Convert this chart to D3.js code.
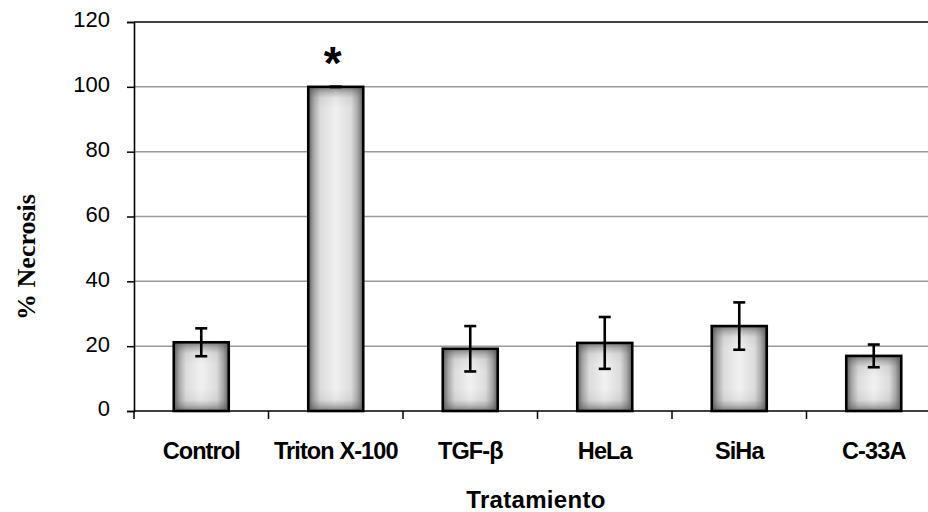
<!DOCTYPE html>
<html>
<head>
<meta charset="utf-8">
<script src="https://cdn.jsdelivr.net/npm/d3@7"></script>
<style>
  body { margin: 0; background: #fff; }
  svg { display: block; }
</style>
</head>
<body>
<svg width="928" height="512"></svg>
<script>
// data
const categories = ['Control', 'Triton X-100', 'TGF-\u03b2', 'HeLa', 'SiHa', 'C-33A'];
const necrosis = [21.2, 100, 19.2, 21, 26.2, 17];
const errors = [4.3, 0, 7, 8, 7.3, 3.5];
const yTicks = [0, 20, 40, 60, 80, 100, 120];
const marked = ['Triton X-100'];

const svg = d3.select('svg');
const plotLeft = 134, plotTop = 22, plotBottom = 411;
const bandW = 134.5;
const plotRight = plotLeft + bandW * categories.length;

const x = d3.scaleBand()
    .domain(categories)
    .range([plotLeft, plotRight])
    .paddingInner(0)
    .paddingOuter(0);

const y = d3.scaleLinear()
    .domain([0, 120])
    .range([plotBottom, plotTop]);

const barW = 55;
const edge = 11; // width of the dark shading at bar edges, px

const data = categories.map((c, i) => ({ c, v: necrosis[i], e: errors[i], i }));

// gradients: dark edges, light centre
const defs = svg.append('defs');
const gh = defs.append('linearGradient').attr('id', 'gh')
    .attr('x1', 0).attr('x2', 1).attr('y1', 0).attr('y2', 0);
[['0%', '#5e5e5e'], ['10%', '#a8a8a8'], ['22%', '#dcdcdc'], ['50%', '#f1f1f1'],
 ['78%', '#dcdcdc'], ['90%', '#a8a8a8'], ['100%', '#5e5e5e']].forEach(s =>
    gh.append('stop').attr('offset', s[0]).attr('stop-color', s[1]));

// vertical shading per bar so the dark band keeps a fixed pixel size
data.forEach(d => {
    const h = plotBottom - y(d.v);
    const f = Math.min(edge / h, 0.3);
    const g = defs.append('linearGradient').attr('id', 'gv' + d.i)
        .attr('x1', 0).attr('x2', 0).attr('y1', 0).attr('y2', 1);
    [[0, 0.75], [f * 0.5, 0.35], [f, 0.08], [Math.min(f * 2, 0.45), 0],
     [1 - Math.min(f * 2, 0.45), 0], [1 - f, 0.08], [1 - f * 0.5, 0.35], [1, 0.75]]
        .forEach(s => g.append('stop')
            .attr('offset', s[0])
            .attr('stop-color', '#555')
            .attr('stop-opacity', s[1]));
});

// grid lines
svg.append('g')
    .selectAll('line')
    .data(yTicks.filter(d => d > 0))
    .enter()
    .append('line')
    .attr('x1', plotLeft)
    .attr('x2', 928)
    .attr('y1', d => y(d))
    .attr('y2', d => y(d))
    .attr('stroke', d => d === 120 ? '#000' : '#9a9a9a')
    .attr('stroke-width', d => d === 120 ? 1.6 : 1.5);

// y axis
const yAxis = svg.append('g')
    .attr('transform', `translate(${plotLeft},0)`)
    .call(d3.axisLeft(y).tickValues(yTicks).tickSize(7).tickPadding(17));
yAxis.select('.domain').attr('stroke', '#000').attr('stroke-width', 1.6);
yAxis.selectAll('.tick line').attr('stroke', '#000').attr('stroke-width', 1.5);
yAxis.selectAll('.tick text')
    .attr('font-family', 'Liberation Sans, Arial, sans-serif')
    .attr('font-size', 22)
    .attr('dy', '0.22em')
    .attr('fill', '#000');

// x axis
const xAxis = svg.append('g')
    .attr('transform', `translate(0,${plotBottom})`)
    .call(d3.axisBottom(x).tickSize(0));
xAxis.select('.domain').remove();
xAxis.selectAll('.tick text')
    .attr('y', 48)
    .attr('dy', null)
    .attr('font-family', 'Liberation Sans, Arial, sans-serif')
    .attr('font-size', 23.5)
    .attr('font-weight', 'bold')
    .attr('letter-spacing', -0.9)
    .attr('fill', '#000');
svg.append('line')
    .attr('x1', plotLeft).attr('x2', 928)
    .attr('y1', plotBottom).attr('y2', plotBottom)
    .attr('stroke', '#000').attr('stroke-width', 1.6);
svg.append('g')
    .selectAll('line')
    .data(categories.concat(['end']))
    .enter()
    .append('line')
    .attr('x1', (d, i) => plotLeft + i * x.bandwidth())
    .attr('x2', (d, i) => plotLeft + i * x.bandwidth())
    .attr('y1', plotBottom)
    .attr('y2', plotBottom + 8)
    .attr('stroke', '#000')
    .attr('stroke-width', 1.5);

// bars
const bars = svg.append('g')
    .selectAll('g')
    .data(data)
    .enter()
    .append('g');

bars.append('rect')
    .attr('x', d => x(d.c) + x.bandwidth() / 2 - barW / 2)
    .attr('y', d => y(d.v))
    .attr('width', barW)
    .attr('height', d => plotBottom - y(d.v))
    .attr('fill', 'url(#gh)');

bars.append('rect')
    .attr('x', d => x(d.c) + x.bandwidth() / 2 - barW / 2)
    .attr('y', d => y(d.v))
    .attr('width', barW)
    .attr('height', d => plotBottom - y(d.v))
    .attr('fill', d => `url(#gv${d.i})`)
    .attr('stroke', '#000')
    .attr('stroke-width', 2.6);

// error bars
const err = bars.filter(d => d.e > 0);
err.append('line')
    .attr('x1', d => x(d.c) + x.bandwidth() / 2)
    .attr('x2', d => x(d.c) + x.bandwidth() / 2)
    .attr('y1', d => y(d.v + d.e))
    .attr('y2', d => y(d.v - d.e))
    .attr('stroke', '#000').attr('stroke-width', 2.6);
err.selectAll('.cap')
    .data(d => [d.v + d.e, d.v - d.e].map(v => ({ c: d.c, v })))
    .enter()
    .append('line')
    .attr('x1', d => x(d.c) + x.bandwidth() / 2 - 6)
    .attr('x2', d => x(d.c) + x.bandwidth() / 2 + 6)
    .attr('y1', d => y(d.v))
    .attr('y2', d => y(d.v))
    .attr('stroke', '#000').attr('stroke-width', 2.6);
bars.filter(d => d.e === 0).append('line')
    .attr('x1', d => x(d.c) + x.bandwidth() / 2 - 6)
    .attr('x2', d => x(d.c) + x.bandwidth() / 2 + 6)
    .attr('y1', d => y(d.v))
    .attr('y2', d => y(d.v))
    .attr('stroke', '#000').attr('stroke-width', 3);

// significance mark
svg.append('g')
    .selectAll('text')
    .data(marked)
    .enter()
    .append('text')
    .attr('x', d => x(d) + x.bandwidth() / 2 - 3)
    .attr('y', 79)
    .attr('text-anchor', 'middle')
    .attr('font-family', 'Liberation Sans, Arial, sans-serif')
    .attr('font-size', 46)
    .attr('font-weight', 'bold')
    .text('*');

// axis titles
svg.append('text')
    .attr('transform', `translate(35,257) rotate(-90)`)
    .attr('text-anchor', 'middle')
    .attr('font-family', 'Liberation Serif, Times New Roman, serif')
    .attr('font-size', 26)
    .attr('font-weight', 'bold')
    .text('% Necrosis');

svg.append('text')
    .attr('x', 536)
    .attr('y', 508)
    .attr('text-anchor', 'middle')
    .attr('font-family', 'Liberation Sans, Arial, sans-serif')
    .attr('font-size', 24)
    .attr('font-weight', 'bold')
    .attr('letter-spacing', 0.3)
    .text('Tratamiento');
</script>
</body>
</html>
